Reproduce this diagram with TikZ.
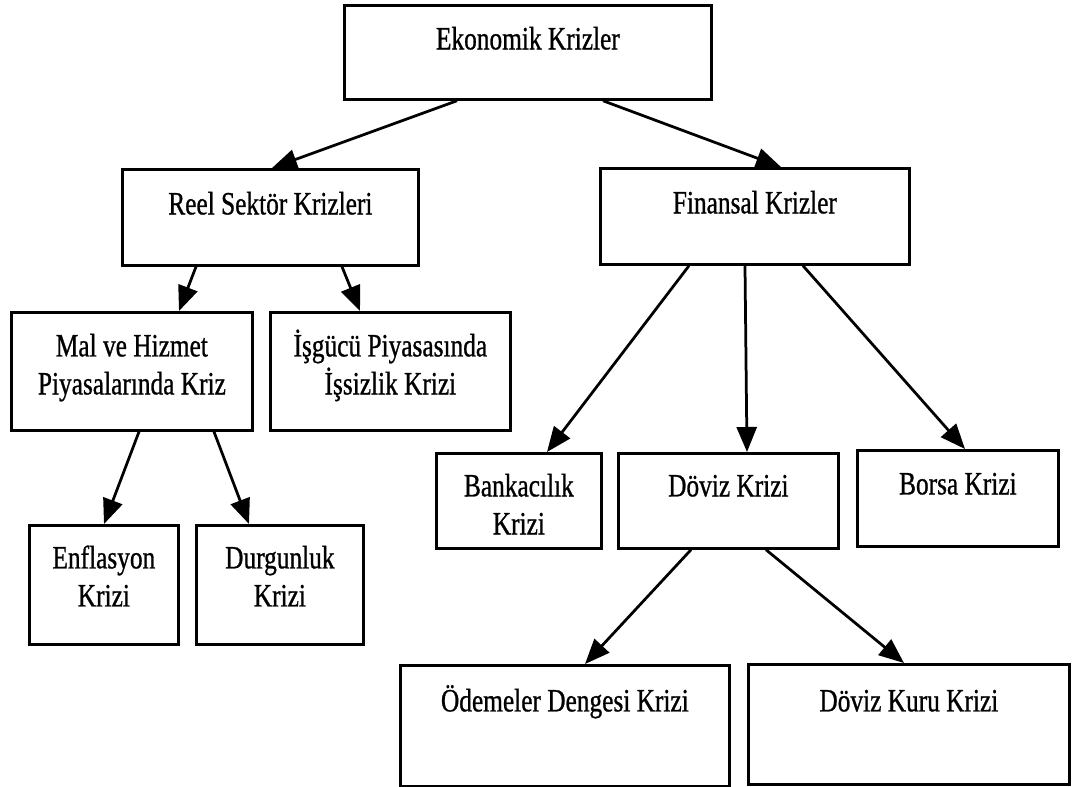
\documentclass[tikz,border=0pt]{standalone}
\usepackage{fontspec}
\setmainfont{Liberation Serif}[FakeStretch=0.78, FakeBold=0.8]
\usepackage{tikz}
\usetikzlibrary{arrows.meta, calc}

\begin{document}
\begin{tikzpicture}[x=0.4pt, y=-0.4pt,
  kutu/.style n args={3}{draw, line width=1.1pt, anchor=north west, inner sep=0pt, align=center,
    minimum width=#1, text height=#2, text depth=#3, font=\fontsize{13}{15.2}\selectfont},
  ok/.style={line width=1.1pt, -{Triangle[length=10pt,width=8pt]}}]

\useasboundingbox (0,0) rectangle (1076,787);

% ust seviye
\node[kutu={146.8pt}{17.6pt}{20pt}] (eko) at (343,4) {Ekonomik Krizler};

\node[kutu={118.4pt}{18pt}{20.4pt}] (reel) at (121,168) {Reel Sektör Krizleri};
\node[kutu={123.6pt}{18pt}{20.4pt}] (fin) at (599,167) {Finansal Krizler};

% reel sektor
\node[kutu={96.4pt}{32.8pt}{14.4pt}] (mal) at (10,311) {Mal ve Hizmet\\Piyasalarında Kriz};
\node[kutu={96pt}{32.8pt}{14.4pt}] (isgucu) at (269,311) {İşgücü Piyasasında\\İşsizlik Krizi};

\node[kutu={59.6pt}{32.4pt}{15.2pt}] (enf) at (28,524) {Enflasyon\\Krizi};
\node[kutu={66.8pt}{32.4pt}{15.2pt}] (durg) at (195,524) {Durgunluk\\Krizi};

% finansal
\node[kutu={66pt}{32.4pt}{5.6pt}] (bank) at (435,452) {Bankacılık\\Krizi};
\node[kutu={88pt}{17.2pt}{20.8pt}] (doviz) at (617,452) {Döviz Krizi};
\node[kutu={80.4pt}{17.6pt}{20.8pt}] (borsa) at (856,449) {Borsa Krizi};

\node[kutu={131.6pt}{18.4pt}{30pt}] (odeme) at (399,664) {Ödemeler Dengesi Krizi};
\node[kutu={128.4pt}{18.8pt}{29.2pt}] (kur) at (747,663) {Döviz Kuru Krizi};

% oklar
\draw[ok] ($(eko.south west)+(114,0)$) -- ($(reel.north west)+(151,0)$);
\draw[ok] ($(eko.south west)+(260,0)$) -- ($(fin.north west)+(182,0)$);

\draw[ok] ($(reel.south west)+(75,0)$) -- ($(mal.north west)+(169,0)$);
\draw[ok] ($(reel.south west)+(221,0)$) -- ($(isgucu.north west)+(91,0)$);

\draw[ok] ($(mal.south west)+(129,0)$) -- ($(enf.north west)+(76,0)$);
\draw[ok] ($(mal.south west)+(204,0)$) -- ($(durg.north west)+(54,0)$);

\draw[ok] ($(fin.south west)+(90,0)$) -- ($(bank.north west)+(112,0)$);
\draw[ok] ($(fin.south west)+(146,0)$) -- ($(doviz.north west)+(130,0)$);
\draw[ok] ($(fin.south west)+(204,0)$) -- ($(borsa.north west)+(109,0)$);

\draw[ok] ($(doviz.south west)+(74,0)$) -- ($(odeme.north west)+(186,0)$);
\draw[ok] ($(doviz.south west)+(149,0)$) -- ($(kur.north west)+(157,0)$);

\end{tikzpicture}
\end{document}
